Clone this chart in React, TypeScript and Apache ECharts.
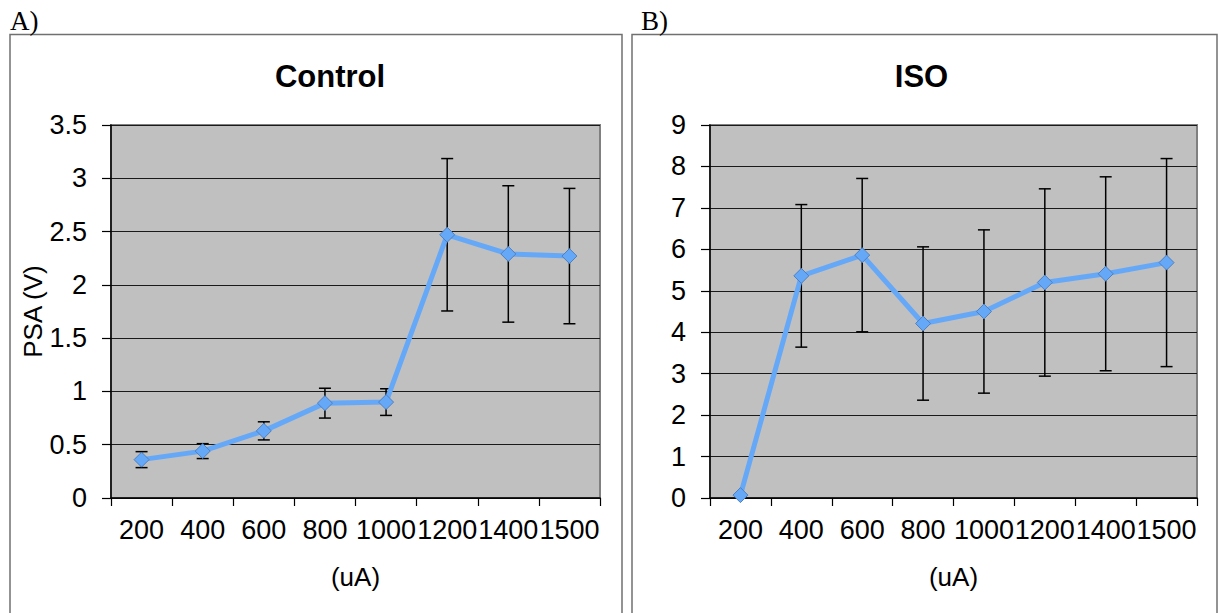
import React, { useEffect, useRef } from "react";
import * as echarts from "echarts";

const categories = ["200", "400", "600", "800", "1000", "1200", "1400", "1500"];
const controlMean = [0.36, 0.44, 0.63, 0.89, 0.9, 2.47, 2.29, 2.27];
const controlErr = [0.075, 0.07, 0.085, 0.14, 0.125, 0.715, 0.64, 0.635];
const isoMean = [0.07, 5.36, 5.86, 4.21, 4.5, 5.2, 5.41, 5.68];
const isoErr = [0, 1.72, 1.85, 1.85, 1.97, 2.26, 2.34, 2.51];

const FONT = "'Liberation Sans', Arial, sans-serif";
const LINE_COLOR = "#66A8F8";

function errData(mean: number[], err: number[]) {
  return mean.map((m, i) => [i, m - err[i], m + err[i], err[i]]);
}

function errorBarRender(params: any, api: any) {
  const e = api.value(3);
  if (!e) return null;
  const x = api.value(0);
  const lo = api.coord([x, api.value(1)]);
  const hi = api.coord([x, api.value(2)]);
  const half = 6;
  const style = { stroke: "#000", lineWidth: 1.5 };
  return {
    type: "group",
    children: [
      { type: "line", shape: { x1: lo[0], y1: hi[1], x2: lo[0], y2: lo[1] }, style },
      { type: "line", shape: { x1: lo[0] - half, y1: hi[1], x2: lo[0] + half, y2: hi[1] }, style },
      { type: "line", shape: { x1: lo[0] - half, y1: lo[1], x2: lo[0] + half, y2: lo[1] }, style },
    ],
  };
}

function xAxisFor(gridIndex: number) {
  return {
    type: "category",
    gridIndex,
    data: categories,
    boundaryGap: true,
    name: "(uA)",
    nameLocation: "middle",
    nameGap: 66,
    nameTextStyle: { fontFamily: FONT, fontSize: 26, color: "#000" },
    axisLine: { show: true, lineStyle: { color: "#000", width: 1.5 } },
    axisTick: { show: true, interval: 0, alignWithLabel: false, length: 8, lineStyle: { color: "#000", width: 1.2 } },
    axisLabel: { interval: 0, fontFamily: FONT, fontSize: 27, color: "#000", margin: 18 },
    splitLine: { show: false },
  };
}

function yAxisFor(gridIndex: number, max: number, interval: number, name: string) {
  return {
    type: "value",
    gridIndex,
    min: 0,
    max,
    interval,
    name,
    nameLocation: "middle",
    nameRotate: 90,
    nameGap: 62,
    nameTextStyle: { fontFamily: FONT, fontSize: 26, color: "#000" },
    axisLine: { show: true, lineStyle: { color: "#000", width: 1.5 } },
    axisTick: { show: true, length: 9, lineStyle: { color: "#000", width: 1.2 } },
    axisLabel: { fontFamily: FONT, fontSize: 27, color: "#000", margin: 24 },
    splitLine: { show: true, lineStyle: { color: "#1a1a1a", width: 1.2 } },
  };
}

function lineSeries(idx: number, data: number[]) {
  return {
    type: "line",
    xAxisIndex: idx,
    yAxisIndex: idx,
    data,
    symbol: "diamond",
    symbolSize: 15,
    lineStyle: { color: LINE_COLOR, width: 5 },
    itemStyle: { color: LINE_COLOR, borderColor: "#4E80C0", borderWidth: 1 },
    z: 5,
  };
}

export default function App() {
  const ref = useRef<HTMLDivElement>(null);
  useEffect(() => {
    if (!ref.current) return;
    const chart = echarts.init(ref.current, undefined, { renderer: "svg" });
    chart.setOption({
      animation: false,
      backgroundColor: "#fff",
      graphic: [
        { type: "rect", shape: { x: 10, y: 34.5, width: 612, height: 600 }, style: { fill: "none", stroke: "#707070", lineWidth: 1.5 }, z: -10 },
        { type: "rect", shape: { x: 632, y: 34.5, width: 585, height: 600 }, style: { fill: "none", stroke: "#707070", lineWidth: 1.5 }, z: -10 },
        { type: "text", x: 10, y: 21, style: { text: "A)", font: "27px 'Liberation Serif', 'Times New Roman', serif", fill: "#000", textVerticalAlign: "middle" } },
        { type: "text", x: 641, y: 21, style: { text: "B)", font: "27px 'Liberation Serif', 'Times New Roman', serif", fill: "#000", textVerticalAlign: "middle" } },
        { type: "text", x: 330, y: 76, style: { text: "Control", font: "bold 31px 'Liberation Sans', Arial, sans-serif", fill: "#000", textAlign: "center", textVerticalAlign: "middle" } },
        { type: "text", x: 921.5, y: 76, style: { text: "ISO", font: "bold 31px 'Liberation Sans', Arial, sans-serif", fill: "#000", textAlign: "center", textVerticalAlign: "middle" } },
      ],
      grid: [
        { left: 111, top: 125, width: 489, height: 373, show: true, backgroundColor: "#C0C0C0", borderColor: "#808080", borderWidth: 2 },
        { left: 710, top: 125, width: 487, height: 373, show: true, backgroundColor: "#C0C0C0", borderColor: "#808080", borderWidth: 2 },
      ],
      xAxis: [xAxisFor(0), xAxisFor(1)],
      yAxis: [yAxisFor(0, 3.5, 0.5, "PSA (V)"), yAxisFor(1, 9, 1, "")],
      series: [
        { type: "custom", xAxisIndex: 0, yAxisIndex: 0, data: errData(controlMean, controlErr), renderItem: errorBarRender, z: 3 },
        { type: "custom", xAxisIndex: 1, yAxisIndex: 1, data: errData(isoMean, isoErr), renderItem: errorBarRender, z: 3 },
        lineSeries(0, controlMean),
        lineSeries(1, isoMean),
      ],
    });
    return () => chart.dispose();
  }, []);
  return (
    <div
      ref={ref}
      style={{ position: "fixed", left: 0, top: 0, width: 1219, height: 613, background: "#fff" }}
    />
  );
}
